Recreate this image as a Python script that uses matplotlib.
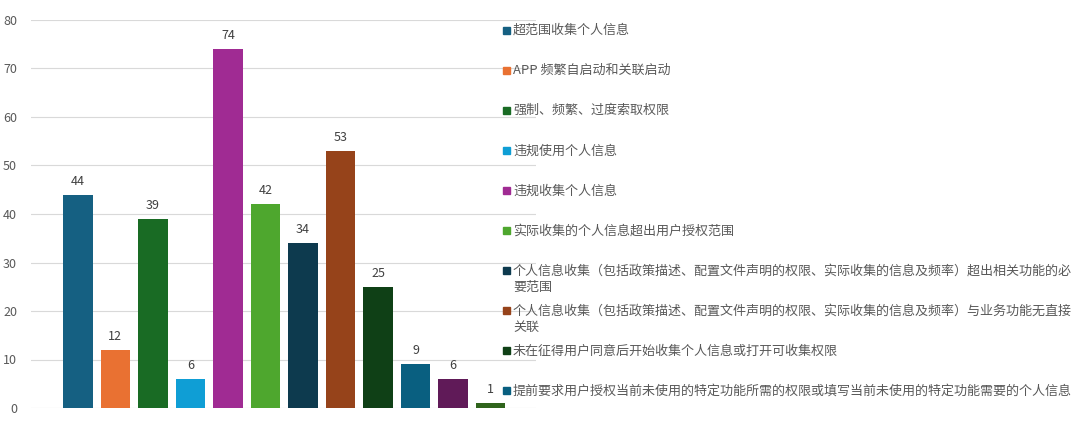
import numpy as np
import matplotlib.pyplot as plt
from matplotlib.patches import Rectangle

plt.rcParams['font.family'] = ['Noto Sans CJK SC', 'DejaVu Sans']

# values of the 12 bars, left to right
counts = [44, 12, 39, 6, 74, 42, 34, 53, 25, 9, 6, 1]
bar_colors = ['#156082', '#e97132', '#196b24', '#0f9ed5', '#a02b93', '#4ea72e',
              '#0d3a4e', '#96431a', '#0f4016', '#095f80', '#601a58', '#2f641c']

# legend (only 10 entries shown in the original)
legend_labels = [
    '超范围收集个人信息',
    'APP 频繁自启动和关联启动',
    '强制、频繁、过度索取权限',
    '违规使用个人信息',
    '违规收集个人信息',
    '实际收集的个人信息超出用户授权范围',
    '个人信息收集（包括政策描述、配置文件声明的权限、实际收集的信息及频率）超出相关功能的必\n要范围',
    '个人信息收集（包括政策描述、配置文件声明的权限、实际收集的信息及频率）与业务功能无直接\n关联',
    '未在征得用户同意后开始收集个人信息或打开可收集权限',
    '提前要求用户授权当前未使用的特定功能所需的权限或填写当前未使用的特定功能需要的个人信息',
]
legend_colors = bar_colors[:10]
yticks = [0, 10, 20, 30, 40, 50, 60, 70, 80]

fig = plt.figure(figsize=(10.8, 4.21), dpi=100)
ax = fig.add_axes([31/1080, 13/421, 505/1080, 388/421])

x = np.arange(len(counts))
bars = ax.bar(x, counts, width=0.79, color=bar_colors, zorder=2)
for b, v in zip(bars, counts):
    ax.annotate(str(v), (b.get_x() + b.get_width()/2, v), xytext=(0, 5),
                textcoords='offset points', ha='center', va='bottom',
                fontsize=9, color='#404040')

ax.set_xlim(-1.25, 12.21)
ax.set_ylim(0, 80)
ax.set_yticks(yticks)
ax.set_xticks([])
ax.yaxis.grid(True, color='#d9d9d9', linewidth=0.8, zorder=0)
ax.tick_params(axis='y', length=0, pad=10, labelsize=9, labelcolor='#595959')
for s in ax.spines.values():
    s.set_visible(False)

# legend drawn entry by entry, 40px slots
for i, (lab, c) in enumerate(zip(legend_labels, legend_colors)):
    yc = 30 + 40.1 * i
    fig.patches.append(Rectangle((503/1080, 1 - (yc + 3.5)/421), 7/1080, 7/421,
                                 transform=fig.transFigure, color=c))
    fig.text(513/1080, 1 - (yc - 6)/421, lab, ha='left', va='top',
             fontsize=9.4, color='#595959', linespacing=1.35)

fig.savefig('out.png', dpi=100)
